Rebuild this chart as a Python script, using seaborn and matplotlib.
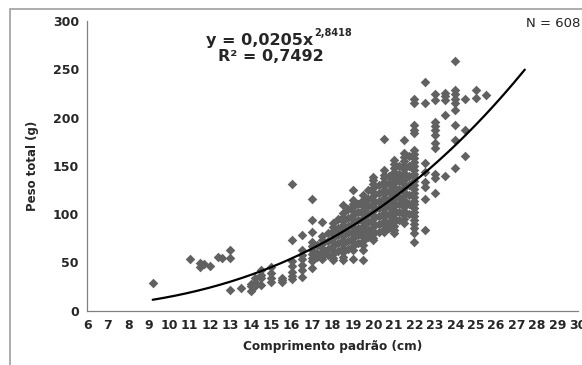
import numpy as np
import matplotlib
matplotlib.use("Agg")
import matplotlib.pyplot as plt
from matplotlib.patches import Rectangle
import seaborn as sns

# Pontos (comprimento padrão em cm, peso total em g)
comprimento = [
    9.2, 11.0, 11.5, 11.5, 11.7, 12.0, 12.4, 12.6, 13.0, 13.0, 13.0, 13.5,
    14.0, 14.0, 14.0, 14.2, 14.2, 14.2, 14.5, 14.5, 14.5, 14.5,
    15.0, 15.0, 15.0, 15.0, 15.5, 15.5, 15.5,
    16.0, 16.0, 16.0, 16.0, 16.0, 16.0, 16.0,
    16.5, 16.5, 16.5, 16.5, 16.5, 16.5, 16.5,
] + [17.0] * 10 + [17.25] * 3 + [17.5] * 8 + [17.75] * 4 + [18.0] * 11 \
  + [18.25] * 5 + [18.5] * 14 + [18.75] * 6 + [19.0] * 16 + [19.25] * 6 \
  + [19.5] * 16 + [19.75] * 7 + [20.0] * 18 + [20.25] * 7 + [20.5] * 18 \
  + [20.75] * 8 + [21.0] * 20 + [21.25] * 8 + [21.5] * 20 + [21.75] * 7 \
  + [22.0] * 28 + [22.5] * 8 + [23.0] * 11 + [23.5] * 5 + [24.0] * 9 \
  + [24.5] * 3 + [25.0] * 2 + [25.5] * 1

peso = [
    29, 53, 49, 45, 48, 46, 56, 55, 63, 55, 21, 23,
    20, 25, 28, 34, 30, 25, 42, 37, 34, 27,
    45, 39, 34, 30, 34, 32, 30,
    131, 73, 51, 46, 40, 36, 33,
    78, 63, 58, 53, 47, 42, 35,
    # 17.0
    116, 94, 82, 71, 67, 63, 59, 55, 51, 44,
    # 17.25
    68, 60, 56,
    # 17.5
    92, 77, 73, 69, 65, 61, 57, 53,
    # 17.75
    80, 72, 64, 58,
    # 18.0
    91, 87, 83, 79, 75, 71, 67, 63, 59, 55, 52,
    # 18.25
    95, 86, 78, 70, 62,
    # 18.5
    109, 101, 97, 93, 89, 85, 81, 77, 73, 69, 65, 61, 56, 52,
    # 18.75
    105, 96, 88, 80, 72, 64,
    # 19.0
    125, 115, 111, 107, 103, 99, 95, 91, 87, 83, 79, 75, 71, 67, 63, 54,
    # 19.25
    110, 102, 94, 86, 78, 70,
    # 19.5
    120, 115, 112, 108, 104, 100, 96, 92, 88, 84, 80, 76, 72, 68, 63, 52,
    # 19.75
    125, 116, 108, 100, 92, 84, 76,
    # 20.0
    139, 135, 131, 127, 123, 119, 115, 111, 107, 103, 99, 95, 91, 87, 83,
    79, 75, 73,
    # 20.25
    130, 122, 114, 106, 98, 90, 82,
    # 20.5
    178, 146, 141, 137, 133, 129, 125, 121, 117, 113, 109, 105, 101, 97, 93,
    89, 85, 82,
    # 20.75
    140, 132, 124, 116, 108, 100, 92, 86,
    # 21.0
    156, 152, 148, 144, 140, 136, 132, 128, 124, 120, 116, 112, 108, 104,
    100, 96, 92, 88, 84, 80,
    # 21.25
    150, 142, 134, 126, 118, 110, 102, 94,
    # 21.5
    177, 163, 159, 155, 151, 147, 143, 139, 135, 131, 127, 123, 119, 115,
    111, 107, 103, 99, 95, 91,
    # 21.75
    160, 150, 140, 130, 120, 110, 100,
    # 22.0
    219, 215, 192, 187, 184, 166, 162, 158, 154, 150, 146, 142, 138, 134,
    130, 126, 122, 118, 114, 110, 106, 102, 98, 94, 90, 86, 80, 71,
    # 22.5
    237, 215, 153, 144, 133, 128, 116, 84,
    # 23.0
    224, 218, 196, 191, 187, 182, 174, 169, 142, 137, 122,
    # 23.5
    226, 222, 218, 203, 140,
    # 24.0
    259, 229, 224, 219, 215, 208, 192, 177, 148,
    # 24.5
    219, 187, 160,
    # 25.0 / 25.5
    229, 220, 223,
]

# Linha de tendência (potência) mostrada no gráfico
coef_a = 0.0205
expoente_b = 2.8418
curva_inicio = 9.2
curva_fim = 27.4

x_ticks = list(range(6, 31))
y_ticks = [0, 50, 100, 150, 200, 250, 300]

sns.set_style("white")
plt.rcParams['font.family'] = ['DejaVu Sans']

fig = plt.figure(figsize=(5.82, 3.65), dpi=100)
ax = fig.add_axes([0.150, 0.149, 0.843, 0.793])

sns.scatterplot(x=comprimento, y=peso, marker='D', s=24, color='#616161',
                linewidth=0, ax=ax, zorder=2)

xc = np.linspace(curva_inicio, curva_fim, 200)
yc = coef_a * xc ** expoente_b
sns.lineplot(x=xc, y=yc, color='black', linewidth=1.6, ax=ax, zorder=3)

ax.set_xlim(6, 30)
ax.set_ylim(0, 300)
ax.set_xticks(x_ticks)
ax.set_yticks(y_ticks)
ax.tick_params(axis='both', direction='out', length=4, width=0.8,
               color='#808080', labelsize=9, pad=2)
for lab in ax.get_xticklabels() + ax.get_yticklabels():
    lab.set_fontweight('bold')

for side in ['top', 'right']:
    ax.spines[side].set_visible(False)
for side in ['left', 'bottom']:
    ax.spines[side].set_color('#808080')
    ax.spines[side].set_linewidth(0.9)

ax.set_xlabel('Comprimento padrão (cm)', fontsize=8.7, fontweight='bold',
              labelpad=6)
ax.set_ylabel('Peso total (g)', fontsize=8.5, fontweight='bold', labelpad=10)

ax.text(17.05, 280, 'y = 0,0205x', ha='right', va='center', fontsize=11.5,
        fontweight='bold')
ax.text(17.1, 287.5, '2,8418', ha='left', va='center', fontsize=7,
        fontweight='bold')
ax.text(15.0, 263, 'R² = 0,7492', ha='center', va='center', fontsize=11.5,
        fontweight='bold')
ax.text(27.45, 298, 'N = 608', ha='left', va='center', fontsize=9.5,
        color='#222222', clip_on=False)

fig.add_artist(Rectangle((10 / 582, -0.5), 2, 0.5 + 1 - 9 / 365,
                         transform=fig.transFigure, fill=False,
                         edgecolor='#a0a0a0', linewidth=1.2))

fig.savefig('out.png', dpi=100)
